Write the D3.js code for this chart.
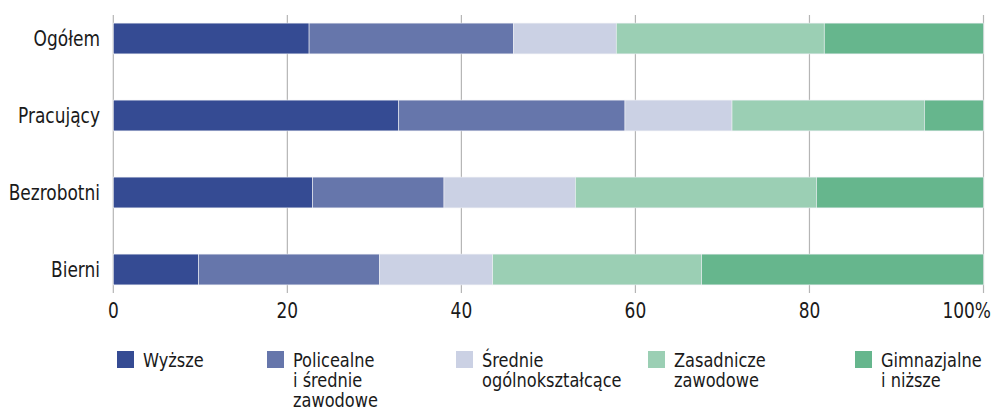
<!DOCTYPE html>
<html>
<head>
<meta charset="utf-8">
<script src="https://cdn.jsdelivr.net/npm/d3@7"></script>
<style>
  body { margin: 0; background: #fff; }
  svg text { font-family: "Liberation Sans Narrow", "DejaVu Sans Condensed", "Arial Narrow", sans-serif; fill: #1a1a1a; }
</style>
</head>
<body>
<svg id="chart" width="992" height="414"></svg>
<script>
// groups (rows) and education levels (stack segments), in %
const groups = ["Ogółem", "Pracujący", "Bezrobotni", "Bierni"];
const levels = ["Wyższe", "Policealne i średnie zawodowe", "Średnie ogólnokształcące", "Zasadnicze zawodowe", "Gimnazjalne i niższe"];
const wyzsze      = [22.5, 32.8, 22.9,  9.8];
const policealne  = [23.5, 26.0, 15.1, 20.8];
const srednie     = [11.8, 12.3, 15.1, 13.0];
const zasadnicze  = [23.9, 22.1, 27.7, 24.0];
const gimnazjalne = [18.3,  6.8, 19.2, 32.4];
const legendLines = [["Wyższe"], ["Policealne", "i średnie", "zawodowe"], ["Średnie", "ogólnokształcące"], ["Zasadnicze", "zawodowe"], ["Gimnazjalne", "i niższe"]];
const xTicks = [0, 20, 40, 60, 80, 100];
const colors = ["#354b93", "#6676ab", "#cbd1e4", "#9bcfb4", "#66b68d"];

const series = [wyzsze, policealne, srednie, zasadnicze, gimnazjalne];
const table = groups.map((g, i) => {
  const row = { group: g };
  levels.forEach((l, j) => row[l] = series[j][i]);
  return row;
});

// the font in the picture is a condensed one, squeeze DejaVu Condensed a bit
const sx = 0.9;

const svg = d3.select("#chart");

const x = d3.scaleLinear().domain([0, 100]).range([113.3, 983.5]);
const y = d3.scaleBand().domain(groups).range([0, 308]).paddingInner(0.6).paddingOuter(0.3);
const color = d3.scaleOrdinal().domain(levels).range(colors);

// gridlines
svg.append("g").attr("class", "grid")
  .selectAll("line").data(xTicks).enter().append("line")
  .attr("x1", d => x(d)).attr("x2", d => x(d))
  .attr("y1", 15).attr("y2", 293)
  .attr("stroke", "#b5b5b5").attr("stroke-width", 1.2);

// stacked bars
const stacked = d3.stack().keys(levels)(table);
svg.append("g").selectAll("g").data(stacked).enter().append("g")
  .attr("fill", d => color(d.key))
  .selectAll("rect").data(d => d).enter().append("rect")
  .attr("x", d => x(d[0]))
  .attr("width", d => x(d[1]) - x(d[0]))
  .attr("y", d => y(d.data.group))
  .attr("height", y.bandwidth())
  .attr("stroke", "#eef0f5").attr("stroke-width", 0.6);

// category labels
svg.append("g").selectAll("text").data(groups).enter().append("text")
  .attr("transform", d => "translate(100," + (y(d) + y.bandwidth() / 2) + ") scale(" + sx + ",1)")
  .attr("dy", "0.36em")
  .attr("text-anchor", "end")
  .style("font-size", "21px")
  .text(d => d);

// x tick labels
svg.append("g").selectAll("text").data(xTicks).enter().append("text")
  .attr("transform", d => "translate(" + (d === 100 ? 991 : x(d)) + ",318) scale(" + sx + ",1)")
  .attr("text-anchor", d => d === 100 ? "end" : "middle")
  .style("font-size", "21px")
  .text(d => d === 100 ? "100%" : d);

// legend
const legendX = [117, 267, 456, 648, 855];
const legend = svg.append("g").selectAll("g").data(levels).enter().append("g")
  .attr("transform", (d, i) => "translate(" + legendX[i] + ",351)");

legend.append("rect")
  .attr("width", 17).attr("height", 17)
  .attr("fill", d => color(d));

legend.append("text")
  .attr("transform", "translate(26,16) scale(" + sx + ",1)")
  .style("font-size", "20px")
  .selectAll("tspan").data((d, i) => legendLines[i]).enter().append("tspan")
  .attr("x", 0)
  .attr("dy", (d, i) => i > 0 ? 20 : null)
  .text(d => d);
</script>
</body>
</html>
